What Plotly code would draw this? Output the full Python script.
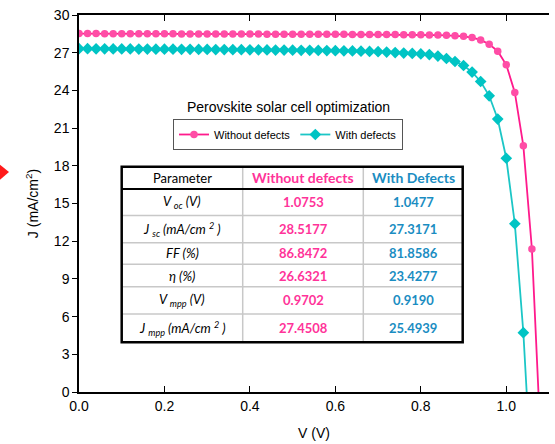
import plotly.graph_objects as go

# ---------------- data ----------------
voltage_nodef = [0.00, 0.02, 0.04, 0.06, 0.08, 0.10, 0.12, 0.14, 0.16, 0.18,
                 0.20, 0.22, 0.24, 0.26, 0.28, 0.30, 0.32, 0.34, 0.36, 0.38,
                 0.40, 0.42, 0.44, 0.46, 0.48, 0.50, 0.52, 0.54, 0.56, 0.58,
                 0.60, 0.62, 0.64, 0.66, 0.68, 0.70, 0.72, 0.74, 0.76, 0.78,
                 0.80, 0.82, 0.84, 0.86, 0.88, 0.90, 0.92, 0.94, 0.96, 0.98,
                 1.00, 1.02, 1.04, 1.06, 1.08]
current_nodef = [28.52, 28.52, 28.52, 28.51, 28.51, 28.51, 28.51, 28.50, 28.50, 28.50,
                 28.50, 28.50, 28.49, 28.49, 28.49, 28.49, 28.49, 28.48, 28.48, 28.48,
                 28.48, 28.48, 28.47, 28.47, 28.47, 28.47, 28.47, 28.46, 28.46, 28.46,
                 28.46, 28.46, 28.45, 28.45, 28.45, 28.45, 28.44, 28.44, 28.43, 28.43,
                 28.42, 28.41, 28.40, 28.38, 28.35, 28.30, 28.20, 28.02, 27.68, 27.12,
                 26.04, 23.84, 19.59, 11.38, -3.50]

voltage_def = [0.00, 0.02, 0.04, 0.06, 0.08, 0.10, 0.12, 0.14, 0.16, 0.18,
               0.20, 0.22, 0.24, 0.26, 0.28, 0.30, 0.32, 0.34, 0.36, 0.38,
               0.40, 0.42, 0.44, 0.46, 0.48, 0.50, 0.52, 0.54, 0.56, 0.58,
               0.60, 0.62, 0.64, 0.66, 0.68, 0.70, 0.72, 0.74, 0.76, 0.78,
               0.80, 0.82, 0.84, 0.86, 0.88, 0.90, 0.92, 0.94, 0.96, 0.98,
               1.00, 1.02, 1.04, 1.06]
current_def = [27.32, 27.32, 27.31, 27.31, 27.30, 27.30, 27.30, 27.29, 27.29, 27.28,
               27.28, 27.28, 27.27, 27.27, 27.26, 27.26, 27.25, 27.25, 27.24, 27.24,
               27.23, 27.23, 27.22, 27.21, 27.21, 27.20, 27.19, 27.19, 27.18, 27.17,
               27.16, 27.15, 27.14, 27.12, 27.10, 27.08, 27.05, 27.01, 26.97, 26.94,
               26.90, 26.85, 26.73, 26.54, 26.30, 25.98, 25.46, 24.71, 23.57, 21.72,
               18.60, 13.39, 4.72, -7.50]

x_ticks = [0.0, 0.2, 0.4, 0.6, 0.8, 1.0]
y_ticks = [0, 3, 6, 9, 12, 15, 18, 21, 24, 27, 30]

table_header = ["Parameter", "Without defects", "With Defects"]
table_params = [
    "<i>V <sub>oc</sub> (V)</i>",
    "<i>J <sub>sc</sub> (mA/cm <sup>2</sup> )</i>",
    "<i>FF (%)</i>",
    "<i>η (%)</i>",
    "<i>V <sub>mpp</sub> (V)</i>",
    "<i>J <sub>mpp</sub> (mA/cm <sup>2</sup> )</i>",
]
table_nodef = ["1.0753", "28.5177", "86.8472", "26.6321", "0.9702", "27.4508"]
table_def = ["1.0477", "27.3171", "81.8586", "23.4277", "0.9190", "25.4939"]

# ---------------- styling ----------------
PINK_LINE = "#FF1A8C"
PINK_MARK = "#FF4DA6"
CYAN_LINE = "#1CC6C6"
CYAN_MARK = "#00C4C4"
PINK_TXT = "#FF3399"
BLUE_TXT = "#1A8DC2"

W_PX, H_PX = 555, 444
L, T, PW, PH = 79, 15, 470, 377


def px(xp):
    return (xp - L) / PW


def py(yp):
    return (T + PH - yp) / PH


fig = go.Figure()
fig.add_trace(go.Scatter(
    x=voltage_nodef, y=current_nodef, mode="lines+markers",
    name="Without defects",
    line=dict(color=PINK_LINE, width=1.8),
    marker=dict(symbol="circle", size=7.5, color=PINK_MARK),
))
fig.add_trace(go.Scatter(
    x=voltage_def, y=current_def, mode="lines+markers",
    name="With defects",
    line=dict(color=CYAN_LINE, width=1.8),
    marker=dict(symbol="diamond", size=9, color=CYAN_MARK),
))

axis_font = dict(family="Liberation Sans, Arial, sans-serif", size=14, color="black")

fig.update_layout(
    width=W_PX, height=H_PX,
    margin=dict(l=L, r=W_PX - L - PW, t=T, b=H_PX - T - PH, autoexpand=False),
    paper_bgcolor="white", plot_bgcolor="white",
    font=axis_font,
    showlegend=True,
    legend=dict(
        orientation="h", x=px(173), y=py(119), xanchor="left", yanchor="top",
        bgcolor="white", bordercolor="#555555", borderwidth=1,
        font=dict(family="Liberation Sans, Arial, sans-serif", size=11, color="black"),
        itemwidth=30, tracegroupgap=0,
    ),
    xaxis=dict(
        range=[0, 1.1], tickvals=x_ticks, ticktext=[f"{v:.1f}" for v in x_ticks],
        ticks="inside", ticklen=6, tickwidth=1.2, tickcolor="black",
        showline=True, linecolor="black", linewidth=1.5, mirror="ticks",
        showgrid=False, zeroline=False, automargin=False,
        title=dict(text="V (V)", font=axis_font, standoff=16),
        tickfont=axis_font,
    ),
    yaxis=dict(
        range=[0, 30], tickvals=y_ticks,
        ticks="outside", ticklen=5, tickwidth=1.2, tickcolor="black",
        showline=True, linecolor="black", linewidth=1.5, mirror=False,
        showgrid=False, zeroline=False, automargin=False,
        title=dict(text="J (mA/cm<sup>2</sup>)", font=axis_font, standoff=12),
        tickfont=axis_font,
    ),
    yaxis2=dict(
        overlaying="y", side="right", range=[0, 30], tickvals=y_ticks,
        ticks="inside", ticklen=6, tickwidth=1.2, tickcolor="black",
        showticklabels=False, showline=True, linecolor="black", linewidth=1.5,
        showgrid=False, zeroline=False, automargin=False,
    ),
)

# chart title above the legend
fig.add_annotation(
    x=px(288), y=py(107), xref="paper", yref="paper",
    xanchor="center", yanchor="middle",
    text="Perovskite solar cell optimization", showarrow=False,
    font=dict(family="Liberation Sans, Arial, sans-serif", size=14, color="black"),
)

# ---------------- parameter table ----------------
col_edges = [121.7, 242.7, 363.3, 462.7]
row_edges = [166.7, 189.0, 215.5, 242.7, 264.3, 286.7, 314.0, 342.3]

shapes = []
shapes.append(dict(type="rect", xref="paper", yref="paper",
                   x0=px(col_edges[0]), x1=px(col_edges[-1]),
                   y0=py(row_edges[-1]), y1=py(row_edges[0]),
                   fillcolor="white", line=dict(width=0), layer="above"))
for r in row_edges[2:-1]:
    shapes.append(dict(type="line", xref="paper", yref="paper",
                       x0=px(col_edges[0]), x1=px(col_edges[-1]), y0=py(r), y1=py(r),
                       line=dict(color="#C8C8C8", width=1.5), layer="above"))
for c in col_edges[1:-1]:
    shapes.append(dict(type="line", xref="paper", yref="paper",
                       x0=px(c), x1=px(c), y0=py(row_edges[-1]), y1=py(row_edges[0]),
                       line=dict(color="#C8C8C8", width=1.5), layer="above"))
shapes.append(dict(type="line", xref="paper", yref="paper",
                   x0=px(col_edges[0]), x1=px(col_edges[-1]),
                   y0=py(row_edges[1]), y1=py(row_edges[1]),
                   line=dict(color="black", width=2), layer="above"))
shapes.append(dict(type="rect", xref="paper", yref="paper",
                   x0=px(col_edges[0]), x1=px(col_edges[-1]),
                   y0=py(row_edges[-1]), y1=py(row_edges[0]),
                   line=dict(color="black", width=2.5), layer="above"))

# red arrow tip at the left edge (cropped artefact in the source image)
shapes.append(dict(type="path", xref="paper", yref="paper",
                   path=f"M {px(-6)} {py(160)} L {px(9)} {py(172)} L {px(-6)} {py(185)} Z",
                   fillcolor="#FF1A1A", line=dict(width=0), layer="above"))

fig.update_layout(shapes=shapes)

tfont = "Lato, Open Sans, sans-serif"
TSIZE = 13
HSIZE = 14
centers_x = [(col_edges[i] + col_edges[i + 1]) / 2 for i in range(3)]
centers_y = [(row_edges[i] + row_edges[i + 1]) / 2 for i in range(len(row_edges) - 1)]


def cell(x, y, text, color, size=TSIZE):
    fig.add_annotation(x=x, y=y, xref="paper", yref="paper",
                       xanchor="center", yanchor="middle",
                       text=text, showarrow=False,
                       font=dict(family=tfont, size=size, color=color))


header_colors = ["black", PINK_TXT, BLUE_TXT]
for i, h in enumerate(table_header):
    cell(px(centers_x[i]), py(centers_y[0]), h if i == 0 else f"<b>{h}</b>",
         header_colors[i], TSIZE if i == 0 else HSIZE)

for r, (p, a, b) in enumerate(zip(table_params, table_nodef, table_def)):
    yy = py(centers_y[r + 1])
    cell(px(centers_x[0]), yy, p, "black")
    cell(px(centers_x[1]), yy, f"<b>{a}</b>", PINK_TXT)
    cell(px(centers_x[2]), yy, f"<b>{b}</b>", BLUE_TXT)

fig.write_html("out.html", config={"displayModeBar": False},
               post_script="document.body.style.margin='0px';")
